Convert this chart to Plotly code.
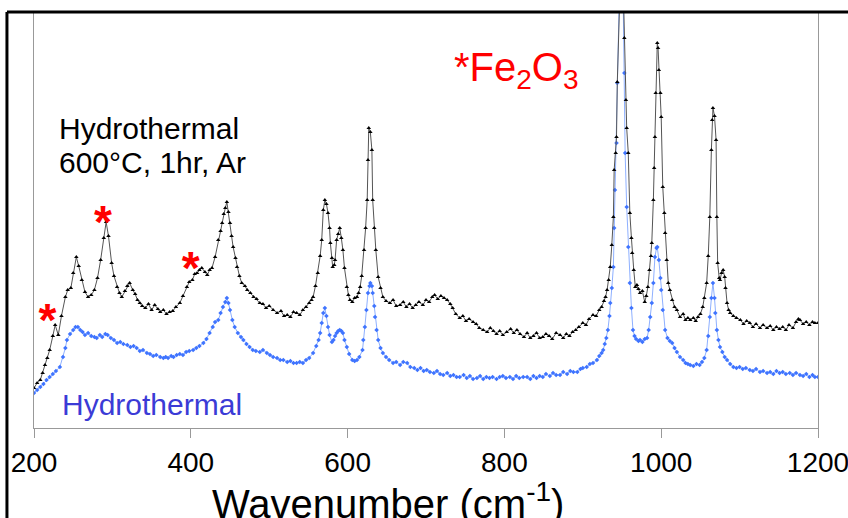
import plotly.graph_objects as go

# ---- data: black series (Hydrothermal 600°C, 1hr, Ar) ----
black_w = [200,204,208,211,214,217,220,224,227,231,235,240,243,247,250,254,257,261,265,269,273,277,281,285,289,292,295,299,302,306,309,312,316,319,322,326,329,332,335,338,342,346,350,354,358,361,365,369,373,377,381,386,390,395,398,402,405,408,411,414,418,421,424,427,431,435,438,440,442,444,446,448,450,452,454,457,459,462,465,469,472,476,480,484,488,492,496,500,505,510,515,519,523,527,531,535,539,543,547,551,554,556,559,562,565,567,569,571,573,575,577,578,580,581,583,584,586,588,590,592,594,596,599,601,603,606,609,612,614,616,618,621,623,625,626,627,629,631,632,634,636,639,642,645,649,654,658,662,667,671,675,679,683,687,691,696,700,704,708,711,715,719,723,727,731,734,738,743,747,751,755,760,764,768,773,778,782,786,790,794,798,803,808,812,816,820,825,829,833,837,841,845,849,853,857,861,866,871,875,879,883,887,891,895,900,904,908,913,917,921,924,927,929,931,933,935,937,939,940,942,943,944,946,949,951,953,955,956,958,960,962,963,965,967,969,971,973,976,979,981,983,985,987,988,990,991,992,993,995,996,997,999,1000,1002,1004,1005,1007,1009,1011,1014,1017,1020,1024,1028,1031,1034,1037,1041,1044,1047,1050,1053,1055,1058,1060,1062,1064,1065,1066,1068,1070,1071,1072,1074,1075,1077,1079,1081,1082,1084,1086,1088,1092,1096,1101,1105,1109,1113,1117,1121,1126,1130,1135,1139,1143,1147,1151,1155,1159,1163,1168,1172,1175,1177,1181,1185,1189,1193,1196,1200]
black_i = [40,45,48,55,63,70,78,92,103,93,112,131,138,140,155,171,162,148,136,131,133,138,150,168,190,206,192,165,152,141,135,131,137,142,145,138,134,128,125,122,120,124,118,123,119,116,118,114,116,117,121,125,132,141,146,148,154,155,158,160,156,153,158,160,171,188,197,205,214,220,226,216,205,192,181,170,161,152,145,142,138,135,131,129,125,124,120,122,118,115,117,112,113,111,116,115,113,118,121,125,128,131,142,155,172,188,218,228,224,215,200,185,170,161,163,168,188,194,200,190,178,160,141,133,128,126,130,131,135,141,152,178,200,228,268,300,296,278,228,200,178,151,140,131,127,125,128,122,123,126,121,124,120,123,126,123,128,126,131,133,129,132,130,128,124,120,114,110,112,107,109,106,104,100,98,96,100,97,94,97,93,96,99,95,98,94,91,95,90,92,95,90,91,94,92,89,95,93,90,94,92,96,98,101,105,103,109,113,112,118,121,127,131,138,148,161,183,211,258,275,291,346,420,480,460,390,328,300,275,215,190,175,158,141,143,139,135,137,126,132,141,158,172,185,228,260,291,335,385,380,358,335,311,241,215,195,168,145,138,128,121,118,111,114,108,110,108,110,107,111,114,121,130,145,172,211,278,308,320,312,288,211,165,150,148,155,158,151,140,125,118,115,112,110,108,104,107,105,101,104,100,103,100,102,98,101,99,101,98,103,100,106,109,108,104,106,103,106,105,105]

# ---- data: blue series (Hydrothermal) ----
blue_w = [200,204,208,212,216,220,224,228,233,237,240,242,246,250,253,256,259,262,265,269,273,277,280,284,287,291,294,298,302,306,310,314,319,323,327,331,335,339,344,348,352,356,361,365,368,371,375,378,382,386,390,394,398,403,407,411,416,420,424,428,431,435,438,441,444,446,448,450,453,456,460,464,467,471,475,479,483,488,492,497,501,505,510,514,518,523,527,531,535,539,543,547,551,556,560,563,565,567,569,571,573,575,577,580,582,584,586,588,590,592,594,596,599,602,606,609,612,615,619,620,622,624,626,628,629,631,632,634,635,637,639,642,645,649,653,658,662,667,671,676,680,685,689,693,697,701,705,710,714,718,722,727,731,735,739,743,748,752,756,760,765,769,773,777,781,785,790,794,798,802,807,811,815,819,824,829,833,837,841,845,849,853,858,862,866,871,875,880,884,888,893,897,900,905,909,913,918,921,924,926,928,930,932,934,935,937,939,940,941,943,944,946,949,951,953,954,956,958,960,962,964,966,968,971,973,976,979,982,984,986,988,990,992,994,995,997,999,1000,1002,1005,1008,1011,1014,1017,1020,1024,1028,1031,1034,1037,1041,1045,1049,1052,1055,1058,1060,1062,1064,1066,1068,1069,1071,1073,1075,1078,1081,1084,1088,1092,1096,1100,1104,1108,1113,1117,1121,1126,1130,1135,1139,1143,1147,1151,1155,1159,1164,1168,1172,1177,1181,1185,1189,1193,1196,1200]
blue_i = [35,38,41,44,48,51,54,57,61,71,80,88,94,98,101,101,98,96,93,95,92,91,90,93,91,94,93,90,88,85,86,84,83,81,82,80,77,78,75,74,72,73,71,70,71,70,72,71,73,74,73,76,77,78,80,82,85,89,95,101,106,108,115,121,126,130,125,118,108,101,95,91,88,84,81,78,77,76,78,75,73,71,70,68,68,66,67,65,65,66,65,68,70,75,82,88,95,105,115,120,112,101,93,86,88,92,95,97,98,97,95,88,81,74,68,67,68,71,78,88,101,118,135,142,145,142,135,122,111,98,88,80,75,71,68,65,66,63,66,65,61,60,58,60,57,58,56,55,57,54,53,55,52,53,51,51,53,50,52,49,50,52,49,51,50,51,49,51,52,50,51,49,52,50,51,51,49,52,50,52,51,54,52,55,53,53,56,54,57,56,56,59,60,61,64,65,68,72,75,78,84,90,98,112,125,140,161,200,238,285,345,430,520,460,355,275,221,181,145,120,98,92,89,87,88,86,89,90,98,111,125,145,171,180,181,168,150,138,118,98,90,87,85,80,76,71,68,65,64,63,62,64,63,66,70,78,92,111,130,145,130,115,98,88,81,76,71,68,64,61,60,61,59,60,58,57,59,56,57,55,56,54,57,55,56,54,55,53,55,53,52,54,51,53,51,51]

x_ticks = [200, 400, 600, 800, 1000, 1200]
x_title = "Wavenumber (cm<sup>-1</sup>)"
label_black_1 = "Hydrothermal"
label_black_2 = "600°C, 1hr, Ar"
label_blue = "Hydrothermal"
label_fe = "*Fe<sub>2</sub>O<sub>3</sub>"
star_w = [217, 288, 400]
star_i = [104, 202, 156]

FONT = "Arial, Liberation Sans, sans-serif"

fig = go.Figure()
fig.add_trace(go.Scatter(
    x=blue_w, y=blue_i, mode="lines+markers",
    line=dict(color="#8eb0ff", width=1),
    marker=dict(symbol="diamond", size=3.5, color="#3f74ff"),
    showlegend=False, hoverinfo="skip"))
fig.add_trace(go.Scatter(
    x=black_w, y=black_i, mode="lines+markers",
    line=dict(color="#555555", width=1),
    marker=dict(symbol="triangle-up", size=4, color="#000000"),
    showlegend=False, hoverinfo="skip"))

# red asterisks
fig.add_trace(go.Scatter(
    x=star_w, y=star_i, mode="text", text=["<b>*</b>"] * 3,
    textfont=dict(family=FONT, size=46, color="#ff0000"),
    textposition="middle center", showlegend=False, hoverinfo="skip",
    cliponaxis=False))

anns = [
    dict(x=229, y=300, text=label_black_1, xanchor="left", yanchor="middle",
         font=dict(family=FONT, size=30, color="#000000")),
    dict(x=229, y=266, text=label_black_2, xanchor="left", yanchor="middle",
         font=dict(family=FONT, size=30, color="#000000")),
    dict(x=233, y=24, text=label_blue, xanchor="left", yanchor="middle",
         font=dict(family=FONT, size=30, color="#3b3bd6")),
    dict(x=733, y=358, text=label_fe, xanchor="left", yanchor="middle",
         font=dict(family=FONT, size=40, color="#ff0000")),
]
for a in anns:
    a.update(xref="x", yref="y", showarrow=False)

# axis title as annotation (offset left like the reference)
anns.append(dict(x=0.4515, y=-0.175, xref="paper", yref="paper", text=x_title,
                 showarrow=False, xanchor="center", yanchor="middle",
                 font=dict(family=FONT, size=40, color="#000000")))

fig.update_layout(
    width=848, height=518,
    margin=dict(l=34, r=30, t=12, b=90, autoexpand=False),
    paper_bgcolor="white", plot_bgcolor="white",
    annotations=anns,
    xaxis=dict(range=[200, 1200], tickvals=x_ticks, ticktext=[str(v) for v in x_ticks],
               ticks="outside", ticklen=9, tickcolor="#999999", tickwidth=1,
               showline=True, linecolor="#999999", linewidth=1, mirror=False,
               showgrid=False, zeroline=False, ticklabeloverflow="allow",
               automargin=False,
               tickfont=dict(family=FONT, size=28, color="#000000")),
    yaxis=dict(range=[0, 416], showticklabels=False, ticks="",
               showline=True, linecolor="#999999", linewidth=1, mirror=True,
               showgrid=False, zeroline=False, automargin=False),
    shapes=[
        dict(type="line", xref="paper", yref="paper", x0=-0.0345, x1=1.04, y0=1, y1=1,
             line=dict(color="#000000", width=3)),
        dict(type="line", xref="paper", yref="paper", x0=-0.0345, x1=-0.0345, y0=1, y1=-0.3,
             line=dict(color="#000000", width=3)),
    ],
)

fig.write_html("out.html")
